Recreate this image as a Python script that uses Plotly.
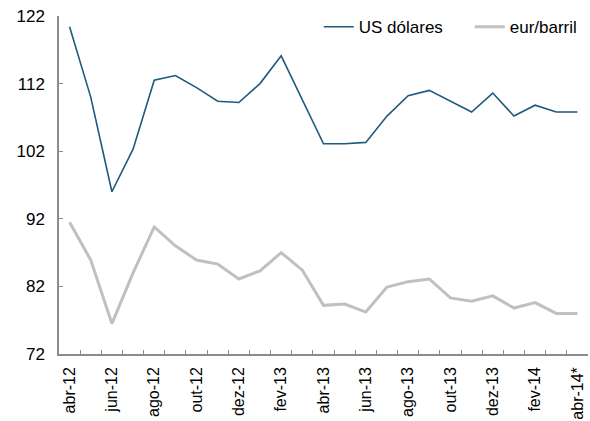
import plotly.graph_objects as go

months = ["abr-12", "mai-12", "jun-12", "jul-12", "ago-12", "set-12", "out-12", "nov-12",
          "dez-12", "jan-13", "fev-13", "mar-13", "abr-13", "mai-13", "jun-13", "jul-13",
          "ago-13", "set-13", "out-13", "nov-13", "dez-13", "jan-14", "fev-14", "mar-14", "abr-14*"]

usd = [120.4, 110.0, 96.0, 102.3, 112.5, 113.2, 111.4, 109.4, 109.2, 112.0, 116.1, 109.5,
       103.1, 103.1, 103.3, 107.2, 110.2, 111.0, 109.4, 107.8, 110.6, 107.2, 108.8, 107.8, 107.8]

eur = [91.5, 85.9, 76.5, 84.0, 90.8, 88.0, 85.9, 85.3, 83.1, 84.3, 87.0, 84.4,
       79.2, 79.4, 78.2, 81.9, 82.7, 83.1, 80.3, 79.8, 80.6, 78.8, 79.6, 78.0, 78.0]

y_ticks = [72, 82, 92, 102, 112, 122]

tick_text = [m if i % 2 == 0 else "" for i, m in enumerate(months)]

fig = go.Figure()
fig.add_trace(go.Scatter(x=months, y=usd, mode="lines", name="US dólares",
                         line=dict(color="#1d5a7c", width=1.6)))
fig.add_trace(go.Scatter(x=months, y=eur, mode="lines", name="eur/barril",
                         line=dict(color="#c0c0c0", width=3)))

axis_color = "#8c8c8c"
fig.update_layout(
    width=590, height=421,
    margin=dict(l=59, r=2, t=16, b=67, autoexpand=False),
    paper_bgcolor="white", plot_bgcolor="white",
    font=dict(family="Liberation Sans, Arial, sans-serif", size=16, color="#000000"),
    showlegend=True,
    legend=dict(orientation="h", x=0.491, xanchor="left", y=0.967, yanchor="middle",
                bgcolor="rgba(0,0,0,0)", font=dict(size=17),
                entrywidth=106, entrywidthmode="pixels",
                tracegroupgap=0),
    xaxis=dict(type="category", categoryorder="array", categoryarray=months,
               range=[-0.5, len(months) - 0.5], automargin=False,
               tickmode="array", tickvals=months, ticktext=tick_text,
               tickson="boundaries", ticks="inside", ticklen=4, tickcolor=axis_color,
               tickwidth=1, tickangle=-90, tickfont=dict(size=16),
               showline=True, linecolor=axis_color, linewidth=1.5,
               showgrid=False, zeroline=False, ticklabelstandoff=5),
    yaxis=dict(range=[72, 122], tickmode="array", tickvals=y_ticks, automargin=False,
               ticks="inside", ticklen=4, tickcolor=axis_color, tickwidth=1,
               showline=True, linecolor=axis_color, linewidth=1.5,
               showgrid=False, zeroline=False, tickfont=dict(size=17),
               ticklabelstandoff=9),
)

fig.write_html("out.html", config={"displayModeBar": False},
               post_script="document.body.style.margin='0';document.body.style.padding='0';")
